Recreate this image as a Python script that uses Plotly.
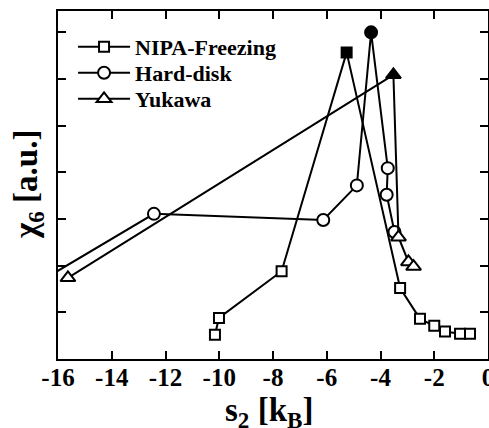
import plotly.graph_objects as go

# NIPA-Freezing (squares)
nipa_x = [-10.16, -10.01, -7.68, -5.26, -3.27, -2.53, -2.00, -1.60, -1.04, -0.67]
nipa_y = [0.52, 0.88, 1.88, 6.57, 1.52, 0.86, 0.71, 0.59, 0.54, 0.54]
nipa_peak = 3

# Hard-disk (circles); first point lies left of the visible range
hd_x = [-17.0, -12.43, -6.13, -4.88, -4.35, -3.73, -3.77, -3.48]
hd_y = [1.55, 3.11, 2.98, 3.72, 7.00, 4.09, 3.52, 2.72]
hd_peak = 4

# Yukawa (triangles)
yk_x = [-15.63, -3.52, -3.33, -2.96, -2.77]
yk_y = [1.74, 6.09, 2.61, 2.08, 1.98]
yk_peak = 1

x_ticks = [-16, -14, -12, -10, -8, -6, -4, -2, 0]
y_ticks = [1, 2, 3, 4, 5, 6, 7]

FONT = "Liberation Serif"


def colors(n, peak):
    return ["black" if i == peak else "white" for i in range(n)]


fig = go.Figure()
series = [
    ("NIPA-Freezing", nipa_x, nipa_y, nipa_peak, "square", 10, "legend"),
    ("Hard-disk", hd_x, hd_y, hd_peak, "circle", 12, "legend2"),
    ("Yukawa", yk_x, yk_y, yk_peak, "triangle-up", 13, "legend3"),
]
for name, xs, ys, pk, sym, sz, lg in series:
    fig.add_trace(go.Scatter(
        x=xs, y=ys, name=name, mode="lines+markers",
        legend=lg,
        line=dict(color="black", width=2),
        marker=dict(symbol=sym, size=sz, color=colors(len(xs), pk),
                    line=dict(color="black", width=2)),
    ))

leg_font = dict(family=FONT, size=22, color="black", weight="bold")
leg_common = dict(x=0.035, xanchor="left", yanchor="middle",
                  bgcolor="rgba(0,0,0,0)", font=leg_font, itemwidth=52)

fig.update_layout(
    width=489, height=428,
    margin=dict(l=58, r=1, t=11, b=69),
    paper_bgcolor="white", plot_bgcolor="white",
    font=dict(family=FONT, color="black"),
    showlegend=True,
    legend=dict(y=0.897, **leg_common),
    legend2=dict(y=0.822, **leg_common),
    legend3=dict(y=0.747, **leg_common),
    xaxis=dict(range=[-16, 0], tickmode="array", tickvals=x_ticks,
               ticktext=[str(v) for v in x_ticks],
               ticks="inside", ticklen=8, tickwidth=2, tickcolor="black",
               showline=True, linewidth=2, linecolor="black", mirror="ticks",
               showgrid=False, zeroline=False, automargin=False,
               ticklabeloverflow="allow", ticklabelstandoff=-5,
               tickfont=dict(family=FONT, size=25, color="black", weight="bold")),
    yaxis=dict(range=[0, 7.457], tickmode="array", tickvals=y_ticks,
               showticklabels=False,
               ticks="inside", ticklen=8, tickwidth=2, tickcolor="black",
               showline=True, linewidth=2, linecolor="black", mirror="ticks",
               showgrid=False, zeroline=False, automargin=False),
    annotations=[
        dict(text="s<sub>2</sub> [k<sub>B</sub>]", xref="paper", yref="paper",
             x=0.49, y=0, xanchor="center", yanchor="top", yshift=-31,
             showarrow=False,
             font=dict(family=FONT, size=33, color="black", weight="bold")),
        dict(text="χ<sub>6</sub> [a.u.]", xref="paper", yref="paper",
             x=0, y=0.5, xanchor="center", yanchor="middle", xshift=-30,
             textangle=-90, showarrow=False,
             font=dict(family=FONT, size=33, color="black", weight="bold")),
    ],
)

fig.write_html("out.html")
